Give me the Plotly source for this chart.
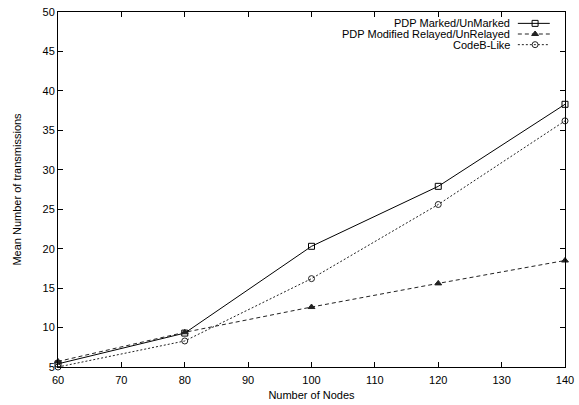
import plotly.graph_objects as go

nodes = [60, 80, 100, 120, 140]
pdp_marked = [5.4, 9.3, 20.3, 27.9, 38.3]
pdp_modified = [5.7, 9.4, 12.6, 15.6, 18.5]
codeb_like = [5.0, 8.3, 16.2, 25.6, 36.2]

series_names = ["PDP Marked/UnMarked", "PDP Modified Relayed/UnRelayed", "CodeB-Like"]
x_ticks = [60, 70, 80, 90, 100, 110, 120, 130, 140]
y_ticks = [5, 10, 15, 20, 25, 30, 35, 40, 45, 50]

styles = [
    dict(dash="solid", color="#000000", symbol="square-open", msize=6),
    dict(dash="4px,3px", color="#222222", symbol="triangle-up", msize=6),
    dict(dash="2px,2px", color="#222222", symbol="circle-open", msize=6),
]
values = [pdp_marked, pdp_modified, codeb_like]

fig = go.Figure()
for name, vals, st in zip(series_names, values, styles):
    fig.add_trace(go.Scatter(
        x=nodes, y=vals, mode="lines+markers", name=name, showlegend=False,
        line=dict(color=st["color"], width=1, dash=st["dash"]),
        marker=dict(symbol=st["symbol"], size=st["msize"], color=st["color"],
                    line=dict(width=1, color=st["color"])),
        cliponaxis=False,
    ))

# custom gnuplot-style legend (text right, sample right) on an overlay axis
row_y = [0.968, 0.938, 0.908]
for name, st, ry in zip(series_names, styles, row_y):
    fig.add_trace(go.Scatter(
        x=[0.907, 0.970], y=[ry, ry], mode="lines", xaxis="x2", yaxis="y2",
        line=dict(color=st["color"], width=1, dash=st["dash"]), showlegend=False,
        hoverinfo="skip"))
    fig.add_trace(go.Scatter(
        x=[0.941], y=[ry], mode="markers", xaxis="x2", yaxis="y2",
        marker=dict(symbol=st["symbol"], size=st["msize"], color=st["color"],
                    line=dict(width=1, color=st["color"])),
        showlegend=False, hoverinfo="skip"))
    fig.add_annotation(x=0.895, y=ry, xref="x2", yref="y2", text=name,
                       showarrow=False, xanchor="right", yanchor="middle",
                       font=dict(family="Liberation Sans, Arial, sans-serif", size=11, color="black"))

axis_font = dict(family="Liberation Sans, Arial, sans-serif", size=11, color="black")

fig.update_layout(
    width=579, height=405,
    margin=dict(l=58, r=14, t=12, b=38, autoexpand=False),
    paper_bgcolor="white", plot_bgcolor="white",
    font=axis_font,
    xaxis=dict(
        range=[60, 140], tickvals=x_ticks, ticktext=[str(v) for v in x_ticks],
        showline=True, linecolor="black", linewidth=1, mirror="ticks",
        ticks="inside", ticklen=5, tickcolor="black", showgrid=False, zeroline=False,
        title=dict(text="Number of Nodes", font=dict(size=11), standoff=6),
        tickfont=axis_font, automargin=False, ticklabelstandoff=3,
    ),
    yaxis=dict(
        range=[5, 50], tickvals=y_ticks, ticktext=[str(v) for v in y_ticks],
        showline=True, linecolor="black", linewidth=1, mirror="ticks",
        ticks="inside", ticklen=5, tickcolor="black", showgrid=False, zeroline=False,
        title=dict(text="Mean Number of transmissions", font=dict(size=11), standoff=18),
        tickfont=axis_font, automargin=False,
    ),
    xaxis2=dict(range=[0, 1], overlaying="x", visible=False, fixedrange=True),
    yaxis2=dict(range=[0, 1], overlaying="y", visible=False, fixedrange=True),
    showlegend=False,
)

fig.write_html("out.html", config={"displayModeBar": False},
               post_script="document.body.style.margin='0';document.body.style.overflow='hidden';")
